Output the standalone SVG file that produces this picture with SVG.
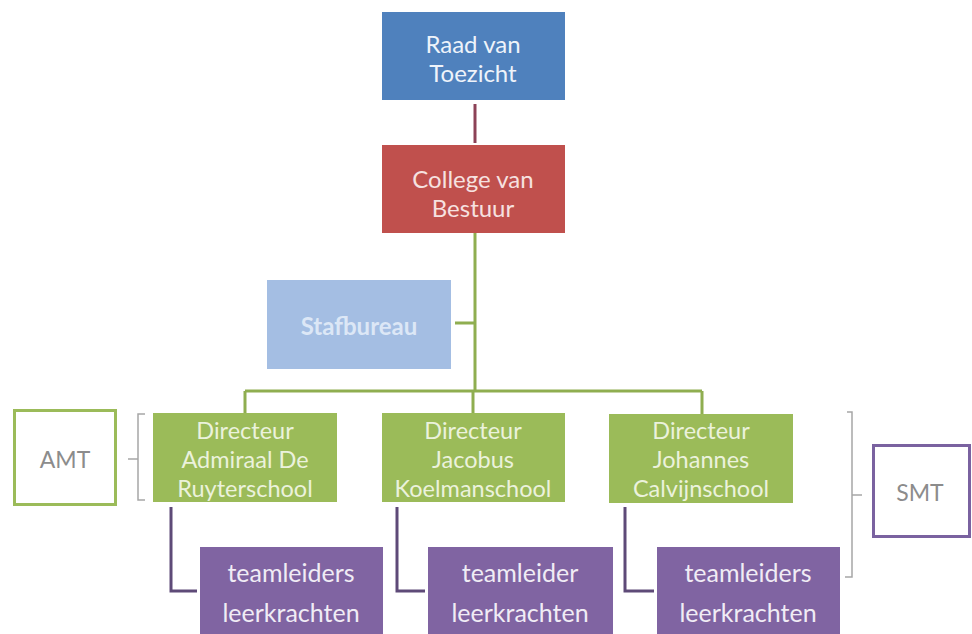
<svg xmlns="http://www.w3.org/2000/svg" width="972" height="634" viewBox="0 0 972 634">
<style>
  text { font-family: Lato, "Liberation Sans", sans-serif; text-anchor: middle; dominant-baseline: central; }
  .t { font-size: 24px; }
  .d { font-size: 23.5px; }
  .p { font-size: 25px; fill: #F0ECF5; }
  .g { font-size: 23px; fill: #8C8C8C; }
  .blue { fill: #4F81BD; }
  .red { fill: #C0504D; }
  .lblue { fill: #A4BEE3; }
  .green { fill: #9BBB59; }
  .purple { fill: #8064A2; }
  .gline { stroke: #8FAE50; stroke-width: 3; fill: none; }
  .pline { stroke: #5E4A78; stroke-width: 3; fill: none; }
  .bracket { stroke: #A6A6A6; stroke-width: 1.5; fill: none; }
</style>
<rect width="972" height="634" fill="#FFFFFF"/>
<g id="connectors">
  <line x1="475" y1="104" x2="475" y2="143" stroke="#8C4257" stroke-width="3"/>
  <path class="gline" d="M475 233 V391 M245 391 H702 M245 391 V413 M473 391 V413 M702 391 V414 M455 323 H475"/>
  <path class="pline" d="M171 507 V591 H197 M397 507 V591 H425 M625 507 V591 H654"/>
  <path class="bracket" d="M145 414 H138 V500 H145 M138 459 H128"/>
  <path class="bracket" d="M847 412 H852 V577 H845 M852 495 H862"/>
</g>
<g id="raad">
  <rect class="blue" x="382" y="12" width="183" height="88"/>
  <text class="t" x="473" y="43" fill="#EEF3FA">Raad van</text>
  <text class="t" x="473" y="72" fill="#EEF3FA">Toezicht</text>
</g>
<g id="college">
  <rect class="red" x="382" y="145" width="183" height="88"/>
  <text class="t" x="473" y="178" fill="#F6E1E0">College van</text>
  <text class="t" x="473" y="207" fill="#F6E1E0">Bestuur</text>
</g>
<g id="stafbureau">
  <rect class="lblue" x="267" y="280" width="184" height="89"/>
  <text class="t" x="359" y="325" fill="#DCE7F6" font-weight="bold">Stafbureau</text>
</g>
<g id="dir1">
  <rect class="green" x="153" y="413" width="184" height="89"/>
  <text class="d" x="245" y="430" fill="#EBF2DC">Directeur</text>
  <text class="d" x="245" y="459" fill="#EBF2DC">Admiraal De</text>
  <text class="d" x="245" y="488" fill="#EBF2DC">Ruyterschool</text>
</g>
<g id="dir2">
  <rect class="green" x="382" y="413" width="183" height="89"/>
  <text class="d" x="473" y="430" fill="#EBF2DC">Directeur</text>
  <text class="d" x="473" y="459" fill="#EBF2DC">Jacobus</text>
  <text class="d" x="473" y="488" fill="#EBF2DC">Koelmanschool</text>
</g>
<g id="dir3">
  <rect class="green" x="609" y="414" width="184" height="89"/>
  <text class="d" x="701" y="430" fill="#EBF2DC">Directeur</text>
  <text class="d" x="701" y="459" fill="#EBF2DC">Johannes</text>
  <text class="d" x="701" y="488" fill="#EBF2DC">Calvijnschool</text>
</g>
<g id="amt">
  <rect x="14.5" y="410.5" width="101" height="94" fill="#FFFFFF" stroke="#9BBB59" stroke-width="3"/>
  <text class="g" x="65" y="459">AMT</text>
</g>
<g id="smt">
  <rect x="873.5" y="445.5" width="96" height="91" fill="#FFFFFF" stroke="#7A62A0" stroke-width="3"/>
  <text class="g" x="920" y="492">SMT</text>
</g>
<g id="team1">
  <rect class="purple" x="200" y="547" width="183" height="87"/>
  <text class="p" x="291" y="572">teamleiders</text>
  <text class="p" x="291" y="612">leerkrachten</text>
</g>
<g id="team2">
  <rect class="purple" x="428" y="547" width="185" height="87"/>
  <text class="p" x="520" y="572">teamleider</text>
  <text class="p" x="520" y="612">leerkrachten</text>
</g>
<g id="team3">
  <rect class="purple" x="657" y="547" width="183" height="87"/>
  <text class="p" x="748" y="572">teamleiders</text>
  <text class="p" x="748" y="612">leerkrachten</text>
</g>
</svg>
